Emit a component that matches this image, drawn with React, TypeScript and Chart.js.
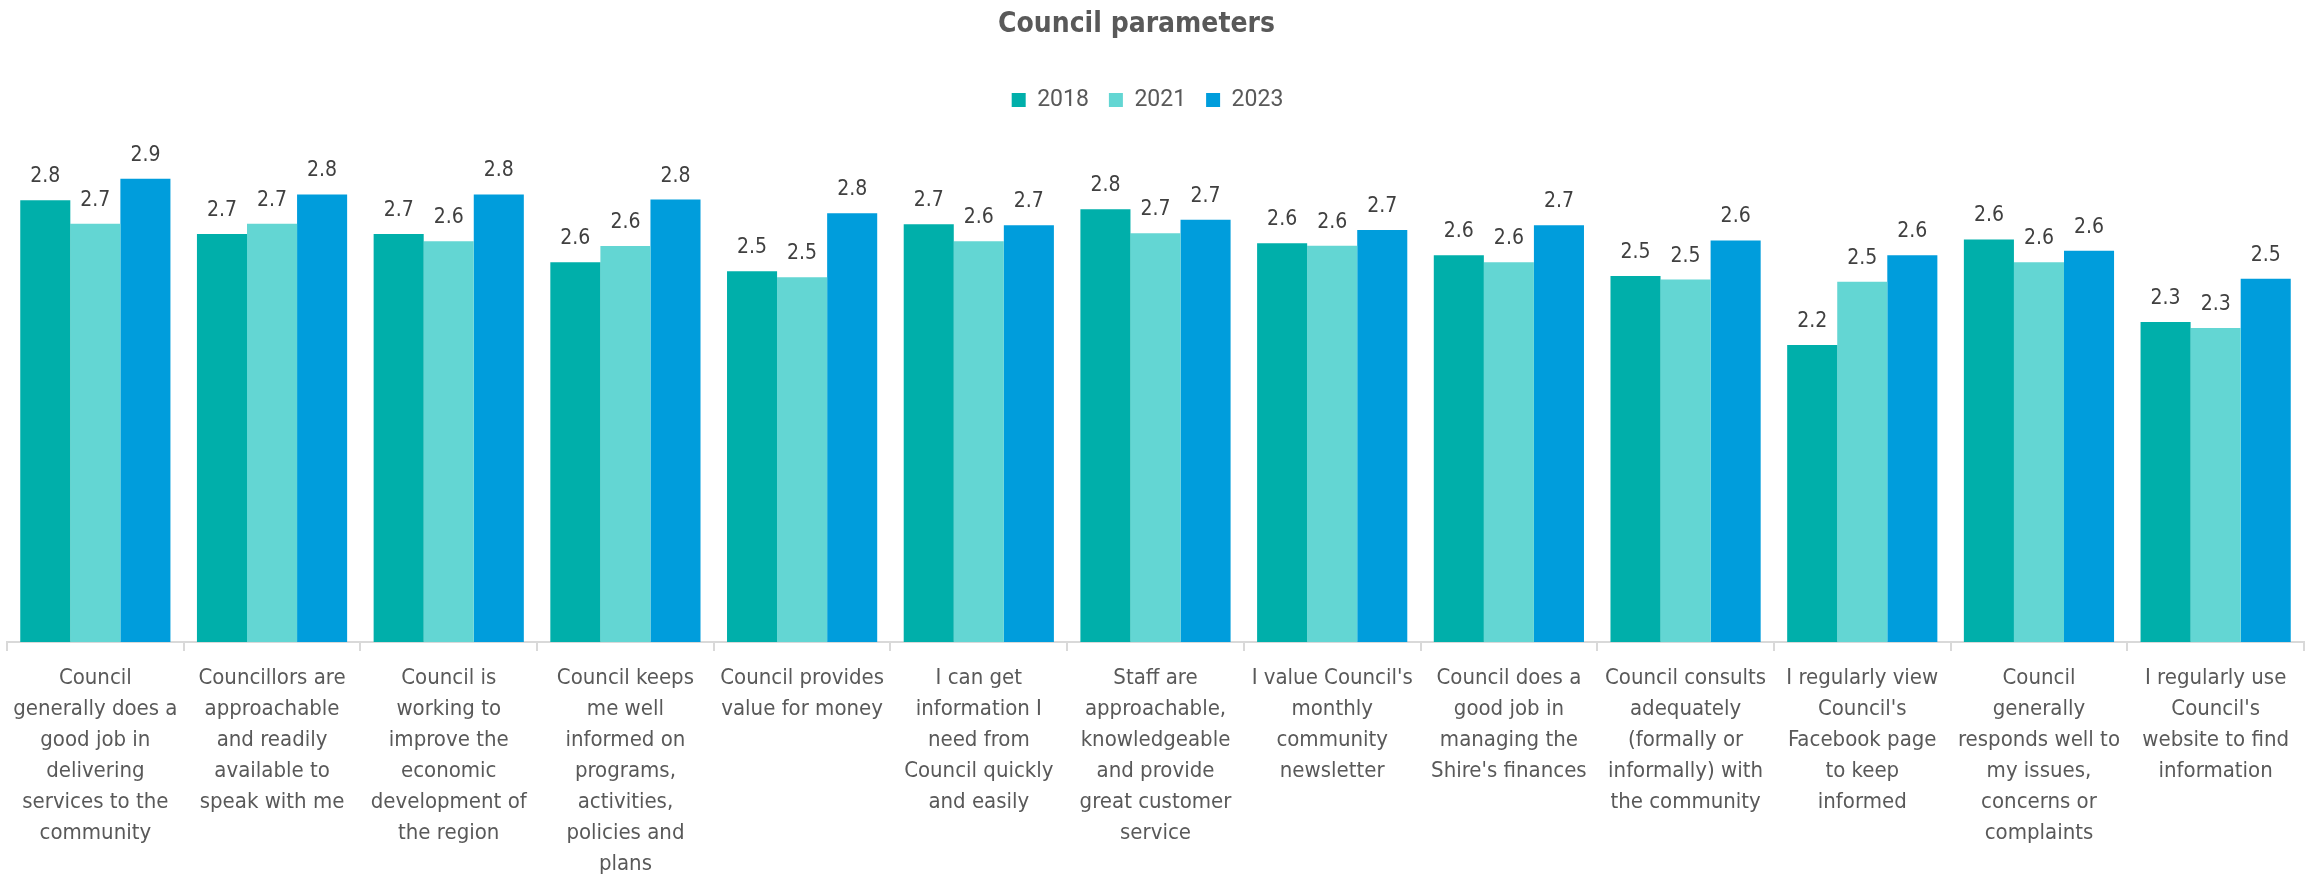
import React, { useEffect, useRef } from "react";
import { Chart, registerables } from "chart.js";

Chart.register(...registerables);

const TITLE = "Council parameters";

const categories: string[][] = [
  ["Council", "generally does a", "good job in", "delivering", "services to the", "community"],
  ["Councillors are", "approachable", "and readily", "available to", "speak with me"],
  ["Council is", "working to", "improve the", "economic", "development of", "the region"],
  ["Council keeps", "me well", "informed on", "programs,", "activities,", "policies and", "plans"],
  ["Council provides", "value for money"],
  ["I can get", "information I", "need from", "Council quickly", "and easily"],
  ["Staff are", "approachable,", "knowledgeable", "and provide", "great customer", "service"],
  ["I value Council's", "monthly", "community", "newsletter"],
  ["Council does a", "good job in", "managing the", "Shire's finances"],
  ["Council consults", "adequately", "(formally or", "informally) with", "the community"],
  ["I regularly view", "Council's", "Facebook page", "to keep", "informed"],
  ["Council", "generally", "responds well to", "my issues,", "concerns or", "complaints"],
  ["I regularly use", "Council's", "website to find", "information"],
];

const seriesNames = ["2018", "2021", "2023"];

const values2018 = [2.805, 2.667, 2.667, 2.552, 2.515, 2.707, 2.768, 2.63, 2.58, 2.496, 2.214, 2.645, 2.308];
const values2021 = [2.709, 2.709, 2.638, 2.618, 2.491, 2.638, 2.67, 2.619, 2.552, 2.481, 2.472, 2.552, 2.283];
const values2023 = [2.893, 2.829, 2.829, 2.808, 2.752, 2.703, 2.726, 2.684, 2.703, 2.641, 2.58, 2.599, 2.484];

const seriesColors = ["#00AFAA", "#63D6D3", "#009DDC"];

const Y_MIN = 1;
const Y_MAX = 3;

const CONDENSED = "'DejaVu Sans Condensed', 'Liberation Sans Narrow', 'DejaVu Sans', sans-serif";

const dataLabelPlugin = {
  id: "dataLabels",
  afterDatasetsDraw(chart: any) {
    const ctx = chart.ctx;
    ctx.save();
    ctx.font = `21px ${CONDENSED}`;
    ctx.fillStyle = "#404040";
    ctx.textAlign = "center";
    ctx.textBaseline = "alphabetic";
    chart.data.datasets.forEach((ds: any, i: number) => {
      const meta = chart.getDatasetMeta(i);
      meta.data.forEach((el: any, j: number) => {
        const v = ds.data[j];
        ctx.fillText(Number(v).toFixed(1), el.x, el.y - 18);
      });
    });
    ctx.restore();
  },
};

const layoutTweaks = {
  id: "layoutTweaks",
  beforeInit(chart: any) {
    const legend = chart.legend;
    if (legend) {
      const fit = legend.fit;
      legend.fit = function () {
        fit.call(this);
        this.height += 31;
      };
    }
  },
  afterLayout(chart: any) {
    const t = chart.titleBlock;
    if (t) {
      t.left -= 38;
    }
    const l = chart.legend;
    if (l) {
      l.left -= 16;
    }
  },
};

export default function App() {
  const canvasRef = useRef<HTMLCanvasElement | null>(null);

  useEffect(() => {
    const canvas = canvasRef.current;
    if (!canvas) return;
    const chart = new Chart(canvas, {
      type: "bar",
      data: {
        labels: categories,
        datasets: [values2018, values2021, values2023].map((vals, i) => ({
          label: seriesNames[i],
          data: vals,
          backgroundColor: seriesColors[i],
          borderWidth: 0,
          categoryPercentage: 0.85,
          barPercentage: 1.0,
        })),
      },
      options: {
        responsive: false,
        animation: false,
        devicePixelRatio: 1,
        layout: { padding: { left: 7, right: 17, top: 0, bottom: 0 } },
        plugins: {
          title: {
            display: true,
            text: TITLE,
            color: "#595959",
            font: { family: CONDENSED, size: 28, weight: "bold" },
            padding: { top: 8, bottom: 27 },
          },
          legend: {
            display: true,
            position: "top",
            labels: {
              boxWidth: 14,
              boxHeight: 14,
              padding: 20,
              color: "#595959",
              font: { family: "Roboto, sans-serif", size: 23 },
            },
          },
          tooltip: { enabled: false },
        },
        scales: {
          x: {
            offset: true,
            grid: {
              display: true,
              drawOnChartArea: false,
              drawTicks: true,
              tickLength: 9,
              color: "#D9D9D9",
              lineWidth: 2,
              offset: true,
            },
            border: { display: true, color: "#D9D9D9", width: 2 },
            ticks: {
              color: "#595959",
              font: { family: CONDENSED, size: 22, lineHeight: "31px" },
              padding: 12,
              maxRotation: 0,
              minRotation: 0,
              autoSkip: false,
            },
            afterFit: (scale: any) => {
              scale.height = 234;
            },
          },
          y: {
            display: false,
            min: Y_MIN,
            max: Y_MAX,
          },
        },
      },
      plugins: [dataLabelPlugin, layoutTweaks],
    });
    return () => chart.destroy();
  }, []);

  return (
    <div style={{ position: "fixed", left: 0, top: 0, width: 2321, height: 876, background: "#ffffff" }}>
      <canvas ref={canvasRef} width={2321} height={876} style={{ display: "block" }} />
    </div>
  );
}
